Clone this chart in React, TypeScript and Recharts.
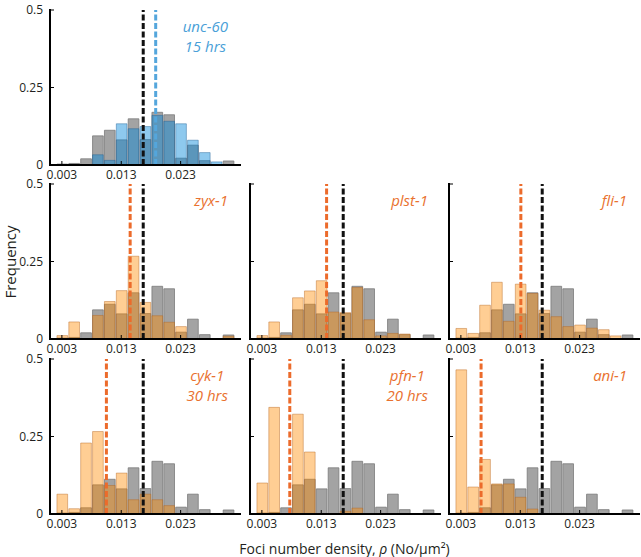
import React from 'react';
import { ComposedChart, Bar, XAxis, YAxis, ReferenceLine } from 'recharts';

// ---- data ----
const binCenters = [0.003, 0.005, 0.007, 0.009, 0.011, 0.013, 0.015, 0.017, 0.019, 0.021, 0.023, 0.025, 0.027, 0.029, 0.031];
const controlFreq = [0.003, 0.005, 0.02, 0.094, 0.112, 0.081, 0.149, 0.082, 0.17, 0.162, 0.022, 0.064, 0.014, 0, 0.013];
const unc60Freq = [0, 0, 0, 0.033, 0.015, 0.133, 0.117, 0.124, 0.16, 0.141, 0.133, 0.08, 0.04, 0.01, 0];
const zyx1Freq = [0.011, 0.055, 0, 0.076, 0.121, 0.156, 0.267, 0.118, 0.075, 0.054, 0.04, 0, 0, 0, 0.009];
const plst1Freq = [0.011, 0.055, 0.012, 0.133, 0.155, 0.188, 0.087, 0.085, 0.166, 0.062, 0.01, 0.018, 0.016, 0, 0];
const fli1Freq = [0.034, 0.018, 0.109, 0.183, 0.057, 0.177, 0.147, 0.093, 0.072, 0.04, 0.045, 0.035, 0.03, 0.01, 0];
const cyk1Freq = [0.064, 0.017, 0.229, 0.266, 0.092, 0.132, 0.046, 0.064, 0.046, 0.027, 0, 0, 0, 0, 0];
const pfn1Freq = [0.1, 0.344, 0, 0.322, 0.2, 0, 0, 0.009, 0.019, 0, 0, 0, 0, 0, 0];
const ani1Freq = [0.465, 0.087, 0.176, 0.097, 0.097, 0.054, 0.016, 0, 0, 0, 0, 0, 0, 0, 0];

const controlMean = 0.0167;
const panelMeans = { unc60: 0.0188, zyx1: 0.0145, plst1: 0.0139, fli1: 0.0131, cyk1: 0.0105, pfn1: 0.0077, ani1: 0.0064 };

const xTicks = [0.003, 0.013, 0.023];
const yTicks = [0, 0.25, 0.5];
const xDomain: [number, number] = [0.001, 0.033];
const yDomain: [number, number] = [0, 0.5];
const binWidth = 0.002;

// ---- style / layout ----
const FONT = '"Open Sans", "Noto Sans", sans-serif';
const ORANGE_TEXT = '#e9712f';
const BLUE_TEXT = '#4a9fd8';
const PLOT_W = 190;
const PLOT_H = 155;

const panels = [
  { key: 'unc60', name: 'unc-60', sub: '15 hrs', freq: unc60Freq, mean: panelMeans.unc60, blue: true, left: 50, top: 10, showY: true },
  { key: 'zyx1', name: 'zyx-1', sub: '', freq: zyx1Freq, mean: panelMeans.zyx1, blue: false, left: 50, top: 184, showY: true },
  { key: 'plst1', name: 'plst-1', sub: '', freq: plst1Freq, mean: panelMeans.plst1, blue: false, left: 250, top: 184, showY: false },
  { key: 'fli1', name: 'fli-1', sub: '', freq: fli1Freq, mean: panelMeans.fli1, blue: false, left: 449, top: 184, showY: false },
  { key: 'cyk1', name: 'cyk-1', sub: '30 hrs', freq: cyk1Freq, mean: panelMeans.cyk1, blue: false, left: 50, top: 359, showY: true },
  { key: 'pfn1', name: 'pfn-1', sub: '20 hrs', freq: pfn1Freq, mean: panelMeans.pfn1, blue: false, left: 250, top: 359, showY: false },
  { key: 'ani1', name: 'ani-1', sub: '', freq: ani1Freq, mean: panelMeans.ani1, blue: false, left: 449, top: 359, showY: false },
];

const EmptyTick = () => null;

const axisLineStyle = { stroke: '#000', strokeWidth: 2, strokeLinecap: 'square' as const };
const tickLineStyle = { stroke: '#000', strokeWidth: 1 };
const tickText = { fontSize: 12, fill: '#231f20', fontFamily: FONT };

function Panel({ p }: { p: typeof panels[number] }) {
  const mL = 45, mR = 4, mT = 10, mB = 30;
  const data = binCenters.map((x, i) => ({ x, ctrl: controlFreq[i], mut: p.freq[i] }));
  const barSize = (PLOT_W * binWidth) / (xDomain[1] - xDomain[0]);
  const mutFill = p.blue ? '#0587da' : '#ff8a00';
  const mutStroke = p.blue ? '#1f5f95' : '#b5651d';
  const meanColor = p.blue ? '#54a6dc' : '#ec6b2b';
  return (
    <div style={{ position: 'absolute', left: p.left - mL, top: p.top - mT }}>
      <ComposedChart
        width={PLOT_W + mL + mR}
        height={PLOT_H + mT + mB}
        data={data}
        margin={{ top: mT, right: mR, left: 0, bottom: 0 }}
        barCategoryGap={0}
        barGap={0}
      >
        <XAxis
          xAxisId="b"
          dataKey="x"
          type="number"
          domain={xDomain}
          ticks={xTicks}
          interval={0}
          orientation="bottom"
          height={mB}
          tickSize={-4}
          tickMargin={9}
          axisLine={axisLineStyle}
          tickLine={tickLineStyle}
          tick={tickText}
          tickFormatter={(v: number) => v.toFixed(3)}
        />
        <XAxis
          xAxisId="t"
          dataKey="x"
          type="number"
          domain={xDomain}
          ticks={xTicks}
          interval={0}
          orientation="top"
          height={0}
          tickSize={-4}
          axisLine={axisLineStyle}
          tickLine={tickLineStyle}
          tick={<EmptyTick />}
        />
        <XAxis xAxisId="m" dataKey="x" type="number" domain={xDomain} hide />
        <YAxis
          yAxisId="l"
          type="number"
          domain={yDomain}
          ticks={yTicks}
          interval={0}
          width={mL}
          tickSize={-4}
          tickMargin={11}
          axisLine={axisLineStyle}
          tickLine={tickLineStyle}
          tick={p.showY ? tickText : <EmptyTick />}
        />
        <YAxis
          yAxisId="r"
          orientation="right"
          type="number"
          domain={yDomain}
          ticks={yTicks}
          interval={0}
          width={0}
          tickSize={-4}
          axisLine={axisLineStyle}
          tickLine={tickLineStyle}
          tick={<EmptyTick />}
        />
        <Bar
          xAxisId="b"
          yAxisId="l"
          dataKey="ctrl"
          barSize={barSize}
          fill="#a3a3a3"
          stroke="#7a7a7a"
          strokeWidth={0.8}
          isAnimationActive={false}
        />
        <Bar
          xAxisId="m"
          yAxisId="l"
          dataKey="mut"
          barSize={barSize}
          fill={mutFill}
          fillOpacity={p.blue ? 0.45 : 0.42}
          stroke={mutStroke}
          strokeOpacity={0.55}
          strokeWidth={0.8}
          isAnimationActive={false}
        />
        <ReferenceLine xAxisId="b" yAxisId="l" x={controlMean} stroke="#111" strokeWidth={3} strokeDasharray="6 2.5" />
        <ReferenceLine xAxisId="b" yAxisId="l" x={p.mean} stroke={meanColor} strokeWidth={3} strokeDasharray="6 2.5" />
      </ComposedChart>
      <div
        style={{
          position: 'absolute',
          left: mL,
          top: mT + 6,
          width: PLOT_W - 12,
          display: 'flex',
          justifyContent: 'flex-end',
          pointerEvents: 'none',
        }}
      >
        <div
          style={{
            textAlign: 'center',
            fontFamily: FONT,
            fontStyle: 'italic',
            fontSize: 15,
            lineHeight: '20px',
            color: p.blue ? BLUE_TEXT : ORANGE_TEXT,
          }}
        >
          <div>{p.name}</div>
          {p.sub ? <div>{p.sub}</div> : null}
        </div>
      </div>
    </div>
  );
}

export default function App() {
  return (
    <div style={{ position: 'absolute', left: 0, top: 0, width: 641, height: 557, background: '#fff', overflow: 'hidden' }}>
      {panels.map((p) => (
        <Panel key={p.key} p={p} />
      ))}
      <div
        style={{
          position: 'absolute',
          left: 10,
          top: 262,
          transform: 'translate(-50%, -50%) rotate(-90deg)',
          fontFamily: FONT,
          fontSize: 15,
          color: '#231f20',
          whiteSpace: 'nowrap',
        }}
      >
        Frequency
      </div>
      <div
        style={{
          position: 'absolute',
          left: 50,
          width: 589,
          top: 539,
          textAlign: 'center',
          fontFamily: FONT,
          fontSize: 14,
          color: '#231f20',
          whiteSpace: 'nowrap',
        }}
      >
        Foci number density, <i>ρ</i> (No/μm²)
      </div>
    </div>
  );
}
